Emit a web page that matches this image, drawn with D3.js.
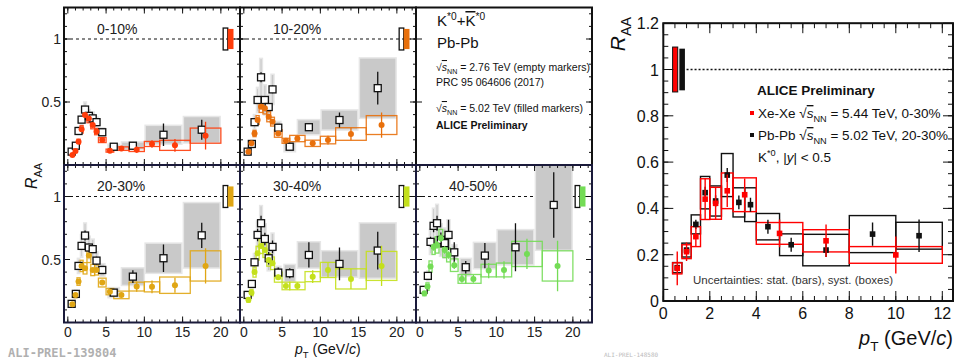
<!DOCTYPE html>
<html>
<head>
<meta charset="utf-8">
<script src="https://cdn.jsdelivr.net/npm/d3@7"></script>
<style>
  body { margin: 0; background: #fff; }
  svg { display: block; font-family: "Liberation Sans", Arial, sans-serif; }
</style>
</head>
<body>
<svg id="chart" width="960" height="359"></svg>
<script>
// ---- K*0 R_AA vs centrality, Pb-Pb 2.76 TeV (open) and 5.02 TeV (filled) ----
const pt276 = [0.5, 1.05, 1.4, 1.8, 2.25, 2.75, 3.25, 3.75, 4.5, 6.0, 8.5, 12.5, 17.5];
const hw276 = [0.15, 0.15, 0.15, 0.15, 0.18, 0.18, 0.2, 0.2, 0.35, 0.75, 1.5, 2.4, 2.4];
const pt502 = [0.6, 1.0, 1.4, 1.8, 2.25, 2.75, 3.25, 3.75, 4.5, 5.5, 7, 9, 11, 14, 18];
const hw502 = [0.2, 0.2, 0.2, 0.2, 0.25, 0.25, 0.25, 0.25, 0.5, 0.5, 1, 1, 1, 2, 2];

const centLabels = ['0-10%', '10-20%', '20-30%', '30-40%', '40-50%'];
const centColors = ['#ff3c0a', '#e8700c', '#e0a614', '#c4e01c', '#74dc56'];

const r276_0010 = [0.106, 0.153, 0.27, 0.36, 0.44, 0.39, 0.37, 0.34, 0.26, 0.145, 0.153, 0.24, 0.28];
const stat276_0010 = [0.005, 0.008, 0.01, 0.012, 0.015, 0.015, 0.015, 0.015, 0.015, 0.015, 0.03, 0.09, 0.08];
const sys276_0010 = [0.015, 0.02, 0.03, 0.04, 0.06, 0.05, 0.05, 0.04, 0.035, 0.02, 0.03, 0.075, 0.105];
const r502_0010 = [0.079, 0.111, 0.185, 0.283, 0.397, 0.37, 0.317, 0.265, 0.198, 0.114, 0.13, 0.122, 0.167, 0.156, 0.233];
const stat502_0010 = [0.005, 0.005, 0.006, 0.008, 0.01, 0.01, 0.01, 0.01, 0.01, 0.01, 0.012, 0.025, 0.03, 0.05, 0.11];
const sys502_0010 = [0.01, 0.012, 0.02, 0.03, 0.04, 0.035, 0.03, 0.025, 0.02, 0.012, 0.014, 0.015, 0.02, 0.04, 0.06];

const r276_1020 = [0.106, 0.167, 0.34, 0.516, 0.696, 0.516, 0.46, 0.6, 0.296, 0.145, 0.30, 0.357, 0.61];
const stat276_1020 = [0.006, 0.01, 0.015, 0.03, 0.04, 0.03, 0.03, 0.03, 0.02, 0.015, 0.03, 0.06, 0.13];
const sys276_1020 = [0.015, 0.03, 0.06, 0.1, 0.15, 0.12, 0.1, 0.12, 0.05, 0.04, 0.06, 0.08, 0.24];
const r502_1020 = [0.106, 0.172, 0.25, 0.357, 0.462, 0.45, 0.383, 0.344, 0.25, 0.192, 0.21, 0.172, 0.198, 0.246, 0.317];
const stat502_1020 = [0.005, 0.006, 0.008, 0.01, 0.012, 0.012, 0.012, 0.012, 0.012, 0.012, 0.015, 0.025, 0.035, 0.05, 0.1];
const sys502_1020 = [0.012, 0.018, 0.025, 0.035, 0.045, 0.045, 0.04, 0.035, 0.03, 0.02, 0.025, 0.025, 0.03, 0.05, 0.075];

const r276_2030 = [0.148, 0.227, 0.449, 0.608, 0.69, 0.595, 0.582, 0.491, 0.417, 0.237, 0.364, 0.51, 0.692];
const stat276_2030 = [0.006, 0.01, 0.02, 0.03, 0.04, 0.03, 0.03, 0.03, 0.025, 0.02, 0.05, 0.11, 0.1];
const sys276_2030 = [0.02, 0.03, 0.06, 0.09, 0.1, 0.09, 0.08, 0.07, 0.05, 0.04, 0.07, 0.12, 0.26];
const r502_2030 = [0.145, 0.219, 0.325, 0.449, 0.43, 0.531, 0.417, 0.417, 0.317, 0.245, 0.219, 0.285, 0.283, 0.296, 0.449];
const stat502_2030 = [0.006, 0.008, 0.01, 0.015, 0.015, 0.015, 0.015, 0.015, 0.015, 0.015, 0.02, 0.04, 0.05, 0.06, 0.14];
const sys502_2030 = [0.015, 0.022, 0.03, 0.045, 0.045, 0.055, 0.045, 0.04, 0.035, 0.025, 0.03, 0.035, 0.04, 0.065, 0.12];

const r276_3040 = [0.219, 0.306, 0.478, 0.695, 0.788, 0.663, 0.51, 0.60, 0.396, 0.391, 0.536, 0.465, 0.571];
const stat276_3040 = [0.008, 0.012, 0.03, 0.05, 0.06, 0.05, 0.05, 0.05, 0.04, 0.04, 0.1, 0.13, 0.15];
const sys276_3040 = [0.02, 0.03, 0.07, 0.11, 0.14, 0.12, 0.1, 0.11, 0.05, 0.07, 0.105, 0.105, 0.22];
const r502_3040 = [0.18, 0.237, 0.4, 0.55, 0.608, 0.576, 0.497, 0.47, 0.36, 0.29, 0.29, 0.364, 0.417, 0.346, 0.449];
const stat502_3040 = [0.008, 0.01, 0.015, 0.02, 0.02, 0.02, 0.02, 0.02, 0.02, 0.02, 0.03, 0.05, 0.06, 0.08, 0.16];
const sys502_3040 = [0.02, 0.025, 0.04, 0.055, 0.06, 0.06, 0.05, 0.05, 0.04, 0.03, 0.03, 0.04, 0.06, 0.08, 0.115];

const r276_4050 = [0.259, 0.37, 0.64, 0.767, 0.788, 0.655, 0.63, 0.695, 0.557, 0.439, 0.531, 0.597, 0.933];
const stat276_4050 = [0.01, 0.015, 0.04, 0.05, 0.06, 0.06, 0.06, 0.12, 0.08, 0.05, 0.1, 0.19, 0.26];
const sys276_4050 = [0.03, 0.04, 0.1, 0.14, 0.15, 0.13, 0.12, 0.12, 0.06, 0.07, 0.105, 0.14, 0.36];
const r502_4050 = [0.232, 0.285, 0.444, 0.60, 0.616, 0.669, 0.576, 0.536, 0.455, 0.346, 0.346, 0.412, 0.417, 0.544, 0.449];
const stat502_4050 = [0.01, 0.012, 0.02, 0.03, 0.03, 0.03, 0.03, 0.03, 0.03, 0.03, 0.03, 0.06, 0.07, 0.12, 0.2];
const sys502_4050 = [0.02, 0.03, 0.045, 0.06, 0.065, 0.07, 0.06, 0.055, 0.05, 0.035, 0.035, 0.05, 0.055, 0.1, 0.12];

// normalisation uncertainty boxes at R_AA = 1 (x range in GeV/c, half height)
const normOpenX = [20.3, 20.9];
const normFillX = [20.9, 21.65];
const normOpenH = 0.087;
const normFillH = 0.08;

// ---- Right: Xe-Xe 0-30% vs Pb-Pb 20-30% ----
const xePt = [0.6, 1.0, 1.4, 1.8, 2.25, 2.75, 3.5, 5, 7, 10];
const xeHw = [0.2, 0.2, 0.2, 0.2, 0.25, 0.25, 0.5, 1, 1, 2];
const xeR = [0.141, 0.213, 0.278, 0.44, 0.422, 0.476, 0.459, 0.292, 0.26, 0.199];
const xeStat = [0.073, 0.04, 0.04, 0.09, 0.07, 0.07, 0.07, 0.06, 0.07, 0.08];
const xeSys = [0.024, 0.03, 0.043, 0.088, 0.069, 0.077, 0.073, 0.047, 0.048, 0.036];

const pbPt = [0.6, 1.0, 1.4, 1.8, 2.25, 2.75, 3.25, 3.75, 4.5, 5.5, 7, 9, 11];
const pbHw = [0.2, 0.2, 0.2, 0.2, 0.25, 0.25, 0.25, 0.25, 0.5, 0.5, 1, 1, 1];
const pbR = [0.144, 0.22, 0.331, 0.468, 0.432, 0.544, 0.426, 0.416, 0.321, 0.243, 0.22, 0.289, 0.282];
const pbStat = [0.01, 0.012, 0.02, 0.025, 0.025, 0.03, 0.03, 0.03, 0.03, 0.03, 0.03, 0.05, 0.07];
const pbSys = [0.022, 0.03, 0.041, 0.07, 0.065, 0.093, 0.063, 0.073, 0.057, 0.047, 0.068, 0.08, 0.058];

const xeNorm = [0.4, 0.62, 0.097];
const pbNorm = [0.69, 0.93, 0.09];

const svg = d3.select('#chart');
const defs = svg.append('defs');

// text with sub/superscripts, italics and overlines
function rich(sel, parts, fs) {
    let shift = 0;
    parts.forEach(p => {
        const target = p.sub ? fs * 0.3 : p.sup ? -fs * 0.42 : 0;
        const ts = sel.append('tspan').text(p.t).attr('dy', target - shift);
        shift = target;
        if (p.sub || p.sup) ts.attr('font-size', fs * 0.68);
        if (p.it) ts.attr('font-style', 'italic');
        if (p.bold) ts.attr('font-weight', 'bold');
        if (p.over) ts.attr('text-decoration', 'overline');
    });
    return sel;
}

function ticks(g, orient, scale, values, len, pos) {
    values.forEach(v => {
        const p = scale(v);
        const l = g.append('line').attr('stroke', '#111').attr('stroke-width', 1);
        if (orient === 'bottom') l.attr('x1', p).attr('x2', p).attr('y1', pos).attr('y2', pos - len);
        if (orient === 'top') l.attr('x1', p).attr('x2', p).attr('y1', pos).attr('y2', pos + len);
        if (orient === 'left') l.attr('y1', p).attr('y2', p).attr('x1', pos).attr('x2', pos + len);
        if (orient === 'right') l.attr('y1', p).attr('y2', p).attr('x1', pos).attr('x2', pos - len);
    });
}

// ================= Left figure =================
const PW = 176, PH = 157.5, PX0 = 64, PY0 = 7.5;
const panels = [
    { col: 0, row: 0, r276: r276_0010, s276: stat276_0010, y276: sys276_0010, r502: r502_0010, s502: stat502_0010, y502: sys502_0010 },
    { col: 1, row: 0, r276: r276_1020, s276: stat276_1020, y276: sys276_1020, r502: r502_1020, s502: stat502_1020, y502: sys502_1020 },
    { col: 0, row: 1, r276: r276_2030, s276: stat276_2030, y276: sys276_2030, r502: r502_2030, s502: stat502_2030, y502: sys502_2030 },
    { col: 1, row: 1, r276: r276_3040, s276: stat276_3040, y276: sys276_3040, r502: r502_3040, s502: stat502_3040, y502: sys502_3040 },
    { col: 2, row: 1, r276: r276_4050, s276: stat276_4050, y276: sys276_4050, r502: r502_4050, s502: stat502_4050, y502: sys502_4050 }
];

const xMajor = [0, 5, 10, 15, 20];
const xMinor = d3.range(0, 23, 1);
const yMajor = [0.5, 1];
const yMinor = d3.range(0.1, 1.25, 0.1);

panels.forEach((p, k) => {
    const x0 = PX0 + p.col * PW, y0 = PY0 + p.row * PH;
    const color = centColors[k];
    const x = d3.scaleLinear().domain([-0.5, 22.5]).range([x0, x0 + PW]);
    const y = d3.scaleLinear().domain([0, 1.25]).range([y0 + PH, y0]);

    defs.append('clipPath').attr('id', `clip${k}`)
        .append('rect').attr('x', x0).attr('y', y0).attr('width', PW).attr('height', PH);

    const g = svg.append('g').attr('clip-path', `url(#clip${k})`);

    g.append('line')
        .attr('x1', x0).attr('x2', x0 + PW)
        .attr('y1', y(1)).attr('y2', y(1))
        .attr('stroke', '#111').attr('stroke-dasharray', '3,3').attr('stroke-width', 1);

    // 2.76 TeV systematic boxes
    g.selectAll('rect.sys276').data(d3.range(pt276.length)).join('rect')
        .attr('x', i => x(pt276[i] - hw276[i]))
        .attr('width', i => x(pt276[i] + hw276[i]) - x(pt276[i] - hw276[i]))
        .attr('y', i => y(p.r276[i] + p.y276[i]))
        .attr('height', i => y(p.r276[i] - p.y276[i]) - y(p.r276[i] + p.y276[i]))
        .attr('fill', '#c9c9c9').attr('stroke', '#e6e6e6').attr('stroke-width', 1.5);

    // 5.02 TeV systematic boxes
    g.selectAll('rect.sys502').data(d3.range(pt502.length)).join('rect')
        .attr('x', i => x(pt502[i] - hw502[i]))
        .attr('width', i => x(pt502[i] + hw502[i]) - x(pt502[i] - hw502[i]))
        .attr('y', i => y(p.r502[i] + p.y502[i]))
        .attr('height', i => y(p.r502[i] - p.y502[i]) - y(p.r502[i] + p.y502[i]))
        .attr('fill', 'none').attr('stroke', color).attr('stroke-width', 1.3).attr('stroke-opacity', 0.9);

    // stat bars
    g.selectAll('line.st276').data(d3.range(pt276.length)).join('line')
        .attr('x1', i => x(pt276[i])).attr('x2', i => x(pt276[i]))
        .attr('y1', i => y(p.r276[i] - p.s276[i])).attr('y2', i => y(p.r276[i] + p.s276[i]))
        .attr('stroke', '#111').attr('stroke-width', 1.3);

    g.selectAll('rect.m276').data(d3.range(pt276.length)).join('rect')
        .attr('x', i => x(pt276[i]) - 3.5).attr('y', i => y(p.r276[i]) - 3.5)
        .attr('width', 7).attr('height', 7)
        .attr('fill', '#fff').attr('stroke', '#111').attr('stroke-width', 1.3);

    g.selectAll('line.st502').data(d3.range(pt502.length)).join('line')
        .attr('x1', i => x(pt502[i])).attr('x2', i => x(pt502[i]))
        .attr('y1', i => y(p.r502[i] - p.s502[i])).attr('y2', i => y(p.r502[i] + p.s502[i]))
        .attr('stroke', color).attr('stroke-width', 1.3);

    g.selectAll('circle.m502').data(d3.range(pt502.length)).join('circle')
        .attr('cx', i => x(pt502[i])).attr('cy', i => y(p.r502[i]))
        .attr('r', 3).attr('fill', color);

    // normalisation boxes
    g.append('rect')
        .attr('x', x(normOpenX[0])).attr('width', x(normOpenX[1]) - x(normOpenX[0]))
        .attr('y', y(1 + normOpenH)).attr('height', y(1 - normOpenH) - y(1 + normOpenH))
        .attr('fill', 'none').attr('stroke', '#111').attr('stroke-width', 1.3);
    g.append('rect')
        .attr('x', x(normFillX[0])).attr('width', x(normFillX[1]) - x(normFillX[0]))
        .attr('y', y(1 + normFillH)).attr('height', y(1 - normFillH) - y(1 + normFillH))
        .attr('fill', color);

    // ticks on all four sides
    const t = svg.append('g');
    ticks(t, 'bottom', x, xMinor, 3, y0 + PH);
    ticks(t, 'bottom', x, xMajor, 6, y0 + PH);
    ticks(t, 'top', x, xMinor, 3, y0);
    ticks(t, 'top', x, xMajor, 6, y0);
    ticks(t, 'left', y, yMinor, 3, x0);
    ticks(t, 'left', y, yMajor, 6, x0);
    ticks(t, 'right', y, yMinor, 3, x0 + PW);
    ticks(t, 'right', y, yMajor, 6, x0 + PW);

    svg.append('text')
        .attr('x', x0 + 33).attr('y', y0 + 26)
        .attr('font-size', 14).attr('fill', '#222')
        .text(centLabels[k]);

    if (p.col === 0) {
        yMajor.forEach(v => {
            svg.append('text')
                .attr('x', x0 - 3).attr('y', y(v) + 5)
                .attr('text-anchor', 'end').attr('font-size', 14).attr('fill', '#222')
                .text(v === 1 ? '1' : '0.5');
        });
    }
    if (p.row === 1) {
        xMajor.forEach(v => {
            svg.append('text')
                .attr('x', x(v)).attr('y', 337)
                .attr('text-anchor', 'middle').attr('font-size', 14).attr('fill', '#222')
                .text(v);
        });
    }
});

// legend pad (top right of left figure)
{
    const lx = PX0 + 2 * PW, ly = PY0;
    const yScale = d3.scaleLinear().domain([0, 1.25]).range([ly + PH, ly]);
    const t = svg.append('g');
    ticks(t, 'right', yScale, yMajor, 6, lx + PW);
    ticks(t, 'right', yScale, yMinor, 3, lx + PW);
    ticks(t, 'left', yScale, yMajor, 6, lx);

    rich(svg.append('text').attr('x', 437).attr('y', 26).attr('font-size', 15).attr('fill', '#111'), [
        { t: 'K' }, { t: '*0', sup: true }, { t: '+' }, { t: 'K', over: true }, { t: '*0', sup: true }
    ], 15);
    svg.append('text').attr('x', 437).attr('y', 48).attr('font-size', 15).attr('fill', '#111').text('Pb-Pb');
    rich(svg.append('text').attr('x', 436).attr('y', 71).attr('font-size', 10.5).attr('fill', '#111'), [
        { t: '√' }, { t: 's', it: true, over: true }, { t: 'NN', sub: true }, { t: ' = 2.76 TeV (empty markers)' }
    ], 10.5);
    svg.append('text').attr('x', 436).attr('y', 86).attr('font-size', 10.5).attr('fill', '#111').text('PRC 95 064606 (2017)');
    rich(svg.append('text').attr('x', 436).attr('y', 112).attr('font-size', 10.5).attr('fill', '#111'), [
        { t: '√' }, { t: 's', it: true, over: true }, { t: 'NN', sub: true }, { t: ' = 5.02 TeV (filled markers)' }
    ], 10.5);
    svg.append('text').attr('x', 436).attr('y', 129).attr('font-size', 10.5).attr('font-weight', 'bold').attr('fill', '#111').text('ALICE Preliminary');
}

// panel frames
for (let r = 0; r < 2; r++) {
    for (let c = 0; c < 3; c++) {
        svg.append('rect')
            .attr('x', PX0 + c * PW).attr('y', PY0 + r * PH)
            .attr('width', PW).attr('height', PH)
            .attr('fill', 'none').attr('stroke', r === 0 ? '#111' : '#1a1a3a').attr('stroke-width', 2);
    }
}

rich(svg.append('text')
    .attr('transform', 'translate(37,176) rotate(-90)')
    .attr('text-anchor', 'middle').attr('font-size', 16).attr('fill', '#111'), [
    { t: 'R', it: true }, { t: 'AA', sub: true }
], 16);

rich(svg.append('text').attr('x', 295).attr('y', 354).attr('font-size', 14).attr('fill', '#111'), [
    { t: 'p', it: true }, { t: 'T', sub: true }, { t: ' (GeV/' }, { t: 'c', it: true }, { t: ')' }
], 14);

svg.append('text')
    .attr('x', 8).attr('y', 357)
    .attr('font-family', '"DejaVu Sans Mono", "Liberation Mono", monospace')
    .attr('font-size', 12).attr('font-weight', 'bold').attr('fill', '#b0b0b0')
    .text('ALI-PREL-139804');

// ================= Right figure =================
{
    const x = d3.scaleLinear().domain([0, 12.46]).range([663.3, 953]);
    const y = d3.scaleLinear().domain([0, 1.2]).range([301, 23.2]);
    const red = '#ff0000';

    defs.append('clipPath').attr('id', 'clipR')
        .append('rect').attr('x', 663.3).attr('y', 23.2).attr('width', 953 - 663.3).attr('height', 301 - 23.2);
    const g = svg.append('g').attr('clip-path', 'url(#clipR)');

    g.append('line')
        .attr('x1', x(1)).attr('x2', x(12.46)).attr('y1', y(1)).attr('y2', y(1))
        .attr('stroke', '#111').attr('stroke-width', 1.6).attr('stroke-dasharray', '2,2');

    g.append('rect')
        .attr('x', x(xeNorm[0])).attr('width', x(xeNorm[1]) - x(xeNorm[0]))
        .attr('y', y(1 + xeNorm[2])).attr('height', y(1 - xeNorm[2]) - y(1 + xeNorm[2]))
        .attr('fill', red).attr('stroke', '#111').attr('stroke-width', 1);
    g.append('rect')
        .attr('x', x(pbNorm[0])).attr('width', x(pbNorm[1]) - x(pbNorm[0]))
        .attr('y', y(1 + pbNorm[2])).attr('height', y(1 - pbNorm[2]) - y(1 + pbNorm[2]))
        .attr('fill', '#111');

    const series = [
        { pt: pbPt, hw: pbHw, r: pbR, st: pbStat, sy: pbSys, color: '#111' },
        { pt: xePt, hw: xeHw, r: xeR, st: xeStat, sy: xeSys, color: red }
    ];
    series.forEach(s => {
        g.selectAll(null).data(d3.range(s.pt.length)).join('rect')
            .attr('x', i => x(s.pt[i] - s.hw[i]))
            .attr('width', i => x(s.pt[i] + s.hw[i]) - x(s.pt[i] - s.hw[i]))
            .attr('y', i => y(s.r[i] + s.sy[i]))
            .attr('height', i => y(s.r[i] - s.sy[i]) - y(s.r[i] + s.sy[i]))
            .attr('fill', 'none').attr('stroke', s.color).attr('stroke-width', 1.4);
    });
    series.forEach(s => {
        g.selectAll(null).data(d3.range(s.pt.length)).join('line')
            .attr('x1', i => x(s.pt[i])).attr('x2', i => x(s.pt[i]))
            .attr('y1', i => y(s.r[i] - s.st[i])).attr('y2', i => y(s.r[i] + s.st[i]))
            .attr('stroke', s.color).attr('stroke-width', 1.4);
        g.selectAll(null).data(d3.range(s.pt.length)).join('rect')
            .attr('x', i => x(s.pt[i]) - 2.8).attr('y', i => y(s.r[i]) - 2.8)
            .attr('width', 5.6).attr('height', 5.6).attr('fill', s.color);
    });

    svg.append('rect')
        .attr('x', 663.3).attr('y', 23.2).attr('width', 953 - 663.3).attr('height', 301 - 23.2)
        .attr('fill', 'none').attr('stroke', '#111').attr('stroke-width', 2);

    const t = svg.append('g');
    const xMaj = d3.range(0, 12.1, 2), xMin = d3.range(0, 12.46, 0.5);
    const yMaj = d3.range(0, 1.21, 0.2), yMin = d3.range(0, 1.2, 0.05);
    ticks(t, 'bottom', x, xMin, 5, 301);
    ticks(t, 'bottom', x, xMaj, 10, 301);
    ticks(t, 'top', x, xMin, 5, 23.2);
    ticks(t, 'top', x, xMaj, 10, 23.2);
    ticks(t, 'left', y, yMin, 5, 663.3);
    ticks(t, 'left', y, yMaj, 10, 663.3);
    ticks(t, 'right', y, yMin, 5, 953);
    ticks(t, 'right', y, yMaj, 10, 953);

    xMaj.forEach(v => {
        svg.append('text').attr('x', x(v)).attr('y', 319)
            .attr('text-anchor', 'middle').attr('font-size', 16).attr('fill', '#111').text(v);
    });
    yMaj.forEach(v => {
        svg.append('text').attr('x', 659).attr('y', y(v) + 6)
            .attr('text-anchor', 'end').attr('font-size', 16).attr('fill', '#111')
            .text(String(+v.toFixed(1)));
    });

    rich(svg.append('text')
        .attr('transform', 'translate(625,17) rotate(-90)')
        .attr('text-anchor', 'end').attr('font-size', 21).attr('fill', '#111'), [
        { t: 'R', it: true }, { t: 'AA', sub: true }
    ], 21);

    rich(svg.append('text').attr('x', 953).attr('y', 345)
        .attr('text-anchor', 'end').attr('font-size', 20).attr('fill', '#111'), [
        { t: 'p', it: true }, { t: 'T', sub: true }, { t: ' (GeV/' }, { t: 'c', it: true }, { t: ')' }
    ], 20);

    svg.append('text').attr('x', 757).attr('y', 95)
        .attr('font-size', 13.5).attr('font-weight', 'bold').attr('fill', '#111').text('ALICE Preliminary');

    svg.append('rect').attr('x', 750).attr('y', 111).attr('width', 4).attr('height', 4).attr('fill', red);
    rich(svg.append('text').attr('x', 758).attr('y', 118).attr('font-size', 13.5).attr('fill', '#111'), [
        { t: 'Xe-Xe ' }, { t: '√' }, { t: 's', it: true, over: true }, { t: 'NN', sub: true }, { t: ' = 5.44 TeV, 0-30%' }
    ], 13.5);
    svg.append('rect').attr('x', 750).attr('y', 133).attr('width', 4).attr('height', 4).attr('fill', '#111');
    rich(svg.append('text').attr('x', 758).attr('y', 140).attr('font-size', 13.5).attr('fill', '#111'), [
        { t: 'Pb-Pb ' }, { t: '√' }, { t: 's', it: true, over: true }, { t: 'NN', sub: true }, { t: ' = 5.02 TeV, 20-30%' }
    ], 13.5);
    rich(svg.append('text').attr('x', 758).attr('y', 162).attr('font-size', 13.5).attr('fill', '#111'), [
        { t: 'K' }, { t: '*0', sup: true }, { t: ', |' }, { t: 'y', it: true }, { t: '| < 0.5' }
    ], 13.5);

    svg.append('text').attr('x', 693).attr('y', 284)
        .attr('font-size', 11.5).attr('fill', '#333')
        .text('Uncertainties: stat. (bars), syst. (boxes)');

    svg.append('text').attr('x', 604).attr('y', 357)
        .attr('font-family', '"DejaVu Sans Mono", monospace')
        .attr('font-size', 6).attr('fill', '#bbb').text('ALI-PREL-148580');
}
</script>
</body>
</html>
